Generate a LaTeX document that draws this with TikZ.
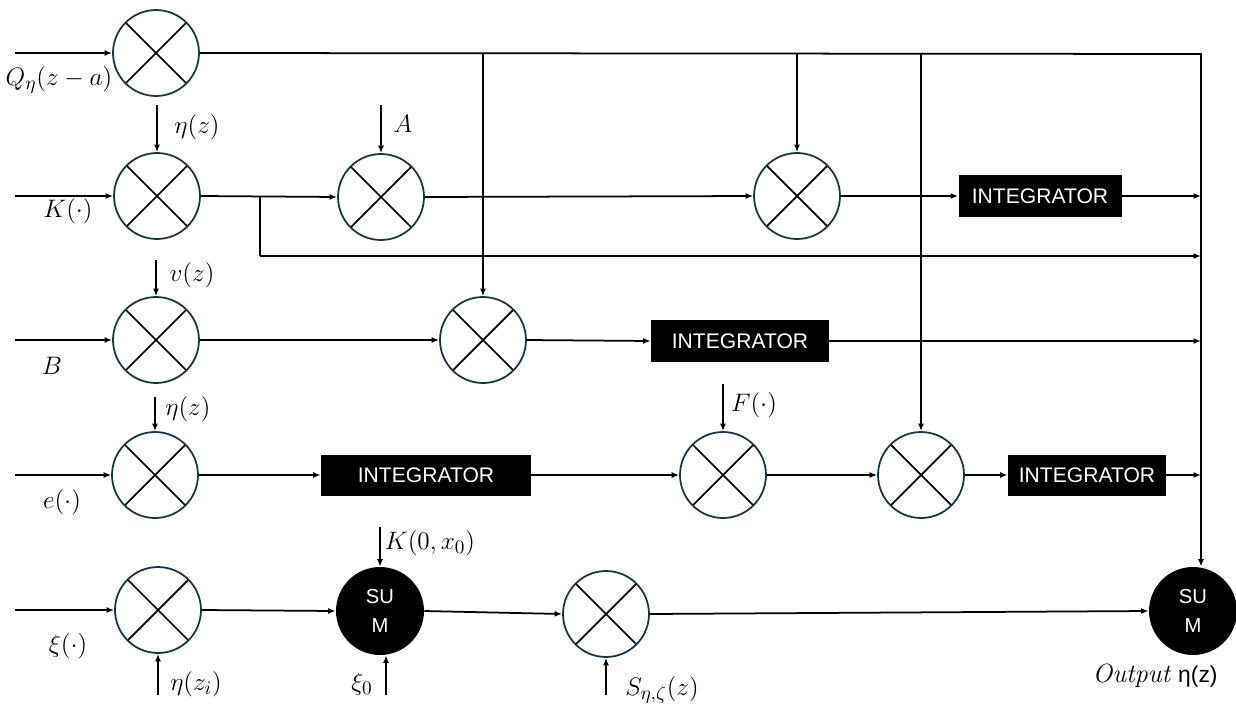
\documentclass[tikz,border=0pt]{standalone}
\usepackage{fontspec}
\usepackage{amsmath}
\usetikzlibrary{arrows.meta}
\newfontfamily\arialfont{Liberation Sans}
\definecolor{ringc}{RGB}{22,52,68}

\begin{document}
\begin{tikzpicture}[x=0.02cm, y=-0.02cm,
  mult/.style={circle, draw=ringc, line width=1pt, minimum size=1.72cm, inner sep=0pt,
    path picture={\draw[black, line width=1pt]
      (path picture bounding box.north west) -- (path picture bounding box.south east)
      (path picture bounding box.south west) -- (path picture bounding box.north east);}},
  summer/.style={circle, fill=black, minimum size=1.76cm, inner sep=0pt, text=white, align=center,
    font=\arialfont\fontsize{11.5}{17}\selectfont},
  integ/.style={fill=black, text=white, inner sep=0pt, font=\arialfont\fontsize{12}{14}\selectfont},
  lbl/.style={font=\fontsize{15}{17}\selectfont, inner sep=0pt},
  arrow/.style={-{Latex[length=1.5mm,width=1.2mm]}, line width=1pt},
  wire/.style={line width=1pt}
]
\useasboundingbox (0,0) rectangle (1236,706);

\node[mult] (mQ) at (156,53) {};
\node[mult] (mK) at (157,196) {};
\node[mult] (mA) at (381,197) {};
\node[mult] (mT) at (797,196) {};
\node[integ, minimum width=3.26cm, minimum height=0.86cm] (intA) at (1040,196) {INTEGRATOR};
\node[mult] (mV) at (156,340) {};
\node[mult] (mB) at (483,340) {};
\node[integ, minimum width=3.56cm, minimum height=0.84cm] (intB) at (740,341) {INTEGRATOR};
\node[mult] (mE) at (155,475) {};
\node[integ, minimum width=4.2cm, minimum height=0.82cm] (intC) at (426,475) {INTEGRATOR};
\node[mult] (mF) at (723,475) {};
\node[mult] (mG) at (921,475) {};
\node[integ, minimum width=3.16cm, minimum height=0.82cm] (intD) at (1087,475) {INTEGRATOR};
\node[mult] (mX) at (158,610) {};
\node[summer] (sumA) at (380,611) {SU\\M};
\node[mult] (mS) at (606,614) {};
\node[summer] (sumB) at (1193,611) {SU\\M};

\coordinate (busTop) at (1201,54);
\coordinate (tap) at (260,196);
\coordinate (tapLow) at (260,256);
\coordinate (inQ) at (15,53);
\coordinate (inK) at (15,196);
\coordinate (inB) at (15,340);
\coordinate (inE) at (15,475);
\coordinate (inX) at (15,610);
\coordinate (srcEtaK) at (157,105);
\coordinate (srcA) at (381,105);
\coordinate (srcV) at (156,260);
\coordinate (srcEtaE) at (155,397);
\coordinate (srcF) at (723,384);
\coordinate (srcK0) at (380,527);
\coordinate (srcEtaI) at (158,695);
\coordinate (srcXi0) at (386,695);
\coordinate (srcS) at (606,695);

\node[lbl] (lQ) at (59,80) {$Q_\eta(z-a)$};
\node[lbl] (lEtaK) at (197,127) {$\eta(z)$};
\node[lbl] (lA) at (403,124) {$A$};
\node[lbl] (lK) at (68,211) {$K(\cdot)$};
\node[lbl] (lV) at (192,275) {$v(z)$};
\node[lbl] (lB) at (52,366) {$B$};
\node[lbl] (lEtaE) at (188,409) {$\eta(z)$};
\node[lbl] (lF) at (754,405) {$F(\cdot)$};
\node[lbl] (lE) at (62,502) {$e(\cdot)$};
\node[lbl] (lK0) at (430,543) {$K(0,x_0)$};
\node[lbl] (lX) at (68,646) {$\xi(\cdot)$};
\node[lbl] (lEtaI) at (196,684) {$\eta(z_i)$};
\node[lbl] (lXi0) at (362,684) {$\xi_0$};
\node[lbl] (lS) at (662,690) {$S_{\eta,\zeta}(z)$};
\node[lbl] (lOut) at (1155,676) {$\mathit{Output}$ {\arialfont\fontsize{13}{15}\selectfont η(z)}};

\draw[arrow] (inQ) -- (mQ.west);
\draw[arrow] (mQ.east) -- (busTop) -- (busTop |- sumB.north);
\draw[arrow] (mB |- busTop) -- (mB.north);
\draw[arrow] (mT |- busTop) -- (mT.north);
\draw[arrow] (mG |- busTop) -- (mG.north);

\draw[arrow] (srcEtaK) -- (mK.north);
\draw[arrow] (srcA) -- (mA.north);
\draw[arrow] (inK) -- (mK.west);
\draw[arrow] (mK.east) -- (mA.west);
\draw[wire] (tap) -- (tapLow);
\draw[arrow] (tapLow) -- (tapLow -| busTop);
\draw[arrow] (mA.east) -- (mT.west);
\draw[arrow] (mT.east) -- (intA.west);
\draw[arrow] (intA.east) -- (intA.east -| busTop);

\draw[arrow] (srcV) -- (mV.north);
\draw[arrow] (inB) -- (mV.west);
\draw[arrow] (mV.east) -- (mB.west);
\draw[arrow] (mB.east) -- (intB.west);
\draw[arrow] (intB.east) -- (intB.east -| busTop);

\draw[arrow] (srcEtaE) -- (mE.north);
\draw[arrow] (srcF) -- (mF.north);
\draw[arrow] (inE) -- (mE.west);
\draw[arrow] (mE.east) -- (intC.west);
\draw[arrow] (intC.east) -- (mF.west);
\draw[arrow] (mF.east) -- (mG.west);
\draw[arrow] (mG.east) -- (intD.west);
\draw[arrow] (intD.east) -- (intD.east -| busTop);

\draw[arrow] (srcK0) -- (sumA.north);
\draw[arrow] (srcEtaI) -- (mX.south);
\draw[arrow] (srcXi0) -- (srcXi0 |- sumA.south);
\draw[arrow] (srcS) -- (mS.south);
\draw[arrow] (inX) -- (mX.west);
\draw[arrow] (mX.east) -- (sumA.west);
\draw[arrow] (sumA.east) -- (mS.west);
\draw[arrow] (mS.east) -- (sumB.west);
\end{tikzpicture}
\end{document}
